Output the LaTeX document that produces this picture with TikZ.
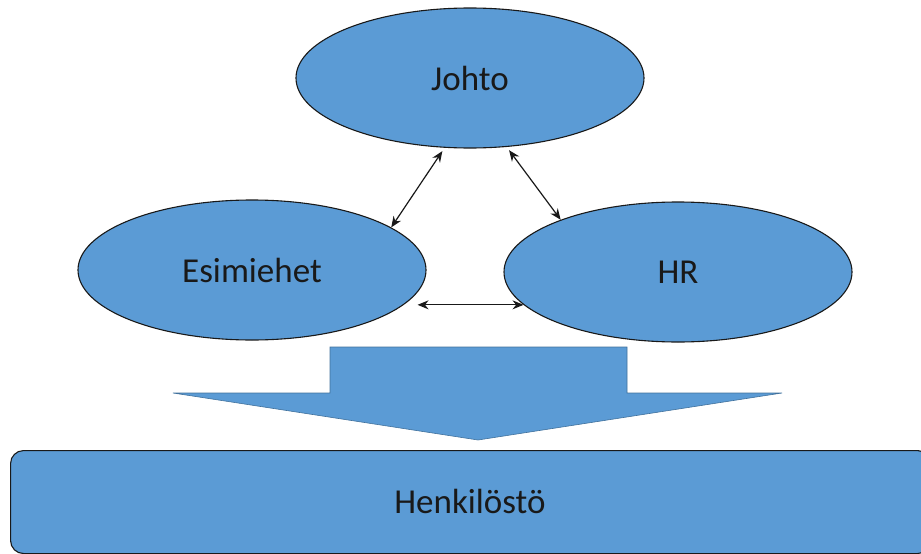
\documentclass[tikz,border=0pt]{standalone}
\usepackage{fontspec}
\setmainfont{Carlito}
\usetikzlibrary{shapes.geometric,arrows.meta}
\definecolor{fillblue}{HTML}{5B9BD5}
\definecolor{edgeblue}{HTML}{41719C}
\begin{document}
\begin{tikzpicture}[x=1pt,y=-1pt,
  oval/.style={ellipse,draw=black!90,line width=1.1pt,fill=fillblue,minimum width=348pt,minimum height=140pt,inner sep=0pt,font=\fontsize{35}{40}\selectfont,text=black!90},
  dbl/.style={{Stealth[length=11pt,width=9pt]}-{Stealth[length=11pt,width=9pt]},line width=1.2pt,black!90}]
\useasboundingbox (0,0) rectangle (921,554);
\clip (0,0) rectangle (921,554);
\node[oval] (johto) at (470,78) {Johto};
\node[oval] (esim) at (252,270) {Esimiehet};
\node[oval] (hr) at (678,272) {HR};
\draw[dbl,shorten <=4pt] (johto.250) -- (esim.17);
\draw[dbl,shorten <=4pt] (johto.298) -- (hr.156);
\draw[dbl] ([xshift=-9pt]esim.east |- hr.192) -- (hr.192);
\draw[draw=edgeblue,line width=0.6pt,fill=fillblue]
  (330,347) -- (627,347) -- (627,393) -- (782,393) -- (478,440) -- (173,393) -- (330,393) -- cycle;
\node[draw=black!90,line width=1.1pt,fill=fillblue,rounded corners=13pt,minimum width=920pt,minimum height=103pt,anchor=north west,inner sep=0pt] (staff) at (10,450) {};
\node[font=\fontsize{35}{40}\selectfont,text=black!90] (stafflabel) at (470,501) {Henkilöstö};
\end{tikzpicture}
\end{document}
